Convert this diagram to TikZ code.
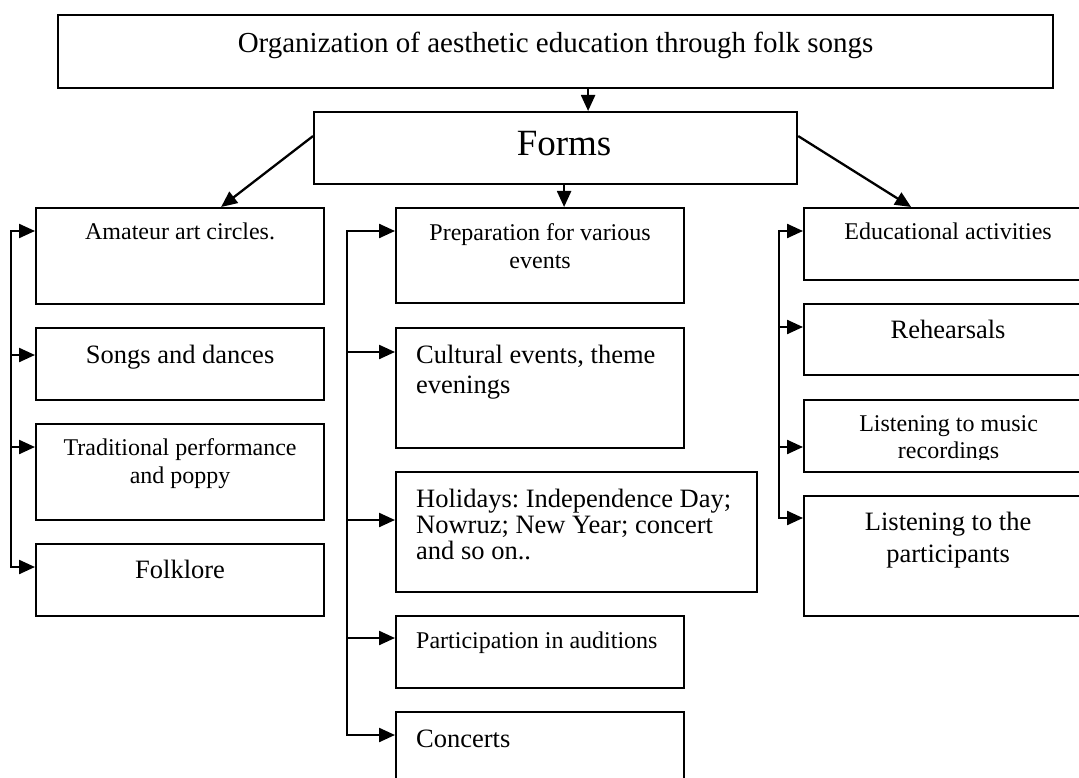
\documentclass[tikz,border=0pt]{standalone}
\usepackage{fontspec}
\setmainfont{Liberation Serif}
\usetikzlibrary{arrows.meta,calc}
\newcommand{\fsSmall}{\fontsize{24}{28}\selectfont}
\newcommand{\fsMed}{\fontsize{26.5}{30}\selectfont}
\frenchspacing
\begin{document}
\begin{tikzpicture}[x=1pt,y=-1pt,
  box/.style={draw, line width=2.2pt, rectangle, inner sep=0pt, anchor=north west},
  txt/.style={inner sep=0pt},
  arr/.style={line width=2.3pt, -{Triangle[length=16pt,width=14pt]}},
  bus/.style={line width=2.3pt, line cap=rect}]
\useasboundingbox (0,0) rectangle (1079,778);

% boxes
\node[box, minimum width=995pt, minimum height=73pt] (title) at (57,14) {};
\node[box, minimum width=483pt, minimum height=72pt] (forms) at (313,111) {};
\node[box, minimum width=288pt, minimum height=96pt] (L1) at (35,207) {};
\node[box, minimum width=288pt, minimum height=72pt] (L2) at (35,327) {};
\node[box, minimum width=288pt, minimum height=96pt] (L3) at (35,423) {};
\node[box, minimum width=288pt, minimum height=72pt] (L4) at (35,543) {};
\node[box, minimum width=288pt, minimum height=95pt] (M1) at (395,207) {};
\node[box, minimum width=288pt, minimum height=120pt] (M2) at (395,327) {};
\node[box, minimum width=361pt, minimum height=120pt] (M3) at (395,471) {};
\node[box, minimum width=288pt, minimum height=72pt] (M4) at (395,615) {};
\node[box, minimum width=288pt, minimum height=80pt] (M5) at (395,711) {};
\node[box, minimum width=290pt, minimum height=72pt] (R1) at (803,207) {};
\node[box, minimum width=290pt, minimum height=71pt] (R2) at (803,303) {};
\node[box, minimum width=290pt, minimum height=72pt] (R3) at (803,399) {};
\node[box, minimum width=290pt, minimum height=120pt] (R4) at (803,495) {};

% texts
\node[txt, anchor=base, font=\fontsize{29}{34}\selectfont] (titlet) at ([yshift=-39pt]title.north) {Organization of aesthetic education through folk songs};
\node[txt, anchor=base, font=\fontsize{37}{42}\selectfont] (formst) at ([xshift=8.5pt,yshift=-45pt]forms.north) {Forms};

\node[txt, anchor=base, font=\fsSmall] (L1t) at ([yshift=-33pt]L1.north) {Amateur art circles.};
\node[txt, anchor=base, font=\fsMed] (L2t) at ([yshift=-36pt]L2.north) {Songs and dances};
\node[txt, anchor=north, align=center, font=\fsSmall] (L3t) at ([yshift=-12.4pt]L3.north) {\strut Traditional performance\\and poppy};
\node[txt, anchor=base, font=\fsMed] (L4t) at ([yshift=-35pt]L4.north) {Folklore};

\node[txt, anchor=north, align=center, font=\fsSmall] (M1t) at ([yshift=-13.4pt]M1.north) {\strut Preparation for various\\events};
\node[txt, anchor=north west, align=left, font=\fsMed] (M2t) at ([xshift=21pt,yshift=-15pt]M2.north west) {\strut Cultural events, theme\\evenings};
\node[txt, anchor=north west, align=left, font=\fontsize{26.5}{26.3}\selectfont] (M3t) at ([xshift=21pt,yshift=-17.6pt]M3.north west) {\strut Holidays: Independence Day;\\Nowruz; New Year; concert\\and so on..};
\node[txt, anchor=base west, font=\fsSmall] (M4t) at ([xshift=21pt,yshift=-33pt]M4.north west) {Participation in auditions};
\node[txt, anchor=base west, font=\fsMed] (M5t) at ([xshift=21pt,yshift=-36pt]M5.north west) {Concerts};

\node[txt, anchor=base, font=\fsSmall] (R1t) at ([xshift=-1pt,yshift=-33pt]R1.north) {Educational activities};
\node[txt, anchor=base, font=\fsMed] (R2t) at ([xshift=-1pt,yshift=-35pt]R2.north) {Rehearsals};
\begin{scope}
\clip (R3.north west) rectangle ([yshift=-60pt]R3.north east);
\node[txt, anchor=north, align=center, font=\fontsize{24}{27}\selectfont] (R3t) at ([xshift=-0.5pt,yshift=-13.1pt]R3.north) {\strut Listening to music\\recordings};
\end{scope}
\node[txt, anchor=north, align=center, font=\fontsize{26.5}{32}\selectfont] (R4t) at ([xshift=-1pt,yshift=-12.6pt]R4.north) {\strut Listening to the\\participants};

% top connectors
\draw[arr] ([xshift=32.5pt]forms.north |- title.south) -- ([xshift=32.5pt]forms.north);
\draw[arr] ([xshift=24pt]M1.north |- forms.south) -- ([xshift=24pt]M1.north);
\draw[arr] ([yshift=12pt]forms.west) -- ([xshift=41pt]L1.north);
\draw[arr] ([yshift=12pt]forms.east) -- ([xshift=-38pt]R1.north);

% left bus
\coordinate (lb1) at (11,231);
\coordinate (lb2) at (11,355);
\coordinate (lb3) at (11,447);
\coordinate (lb4) at (11,567);
\draw[bus] (lb1) -- (lb4);
\draw[arr] (lb1) -- (lb1 -| L1.west);
\draw[arr] (lb2) -- (lb2 -| L2.west);
\draw[arr] (lb3) -- (lb3 -| L3.west);
\draw[arr] (lb4) -- (lb4 -| L4.west);

% middle bus
\coordinate (mb1) at (347,231);
\coordinate (mb2) at (347,352);
\coordinate (mb3) at (347,520);
\coordinate (mb4) at (347,638);
\coordinate (mb5) at (347,735);
\draw[bus] (mb1) -- (mb5);
\draw[arr] (mb1) -- (mb1 -| M1.west);
\draw[arr] (mb2) -- (mb2 -| M2.west);
\draw[arr] (mb3) -- (mb3 -| M3.west);
\draw[arr] (mb4) -- (mb4 -| M4.west);
\draw[arr] (mb5) -- (mb5 -| M5.west);

% right bus
\coordinate (rb1) at (779,231);
\coordinate (rb2) at (779,327);
\coordinate (rb3) at (779,447);
\coordinate (rb4) at (779,518);
\draw[bus] (rb1) -- (rb4);
\draw[arr] (rb1) -- (rb1 -| R1.west);
\draw[arr] (rb2) -- (rb2 -| R2.west);
\draw[arr] (rb3) -- (rb3 -| R3.west);
\draw[arr] (rb4) -- (rb4 -| R4.west);
\end{tikzpicture}
\end{document}
